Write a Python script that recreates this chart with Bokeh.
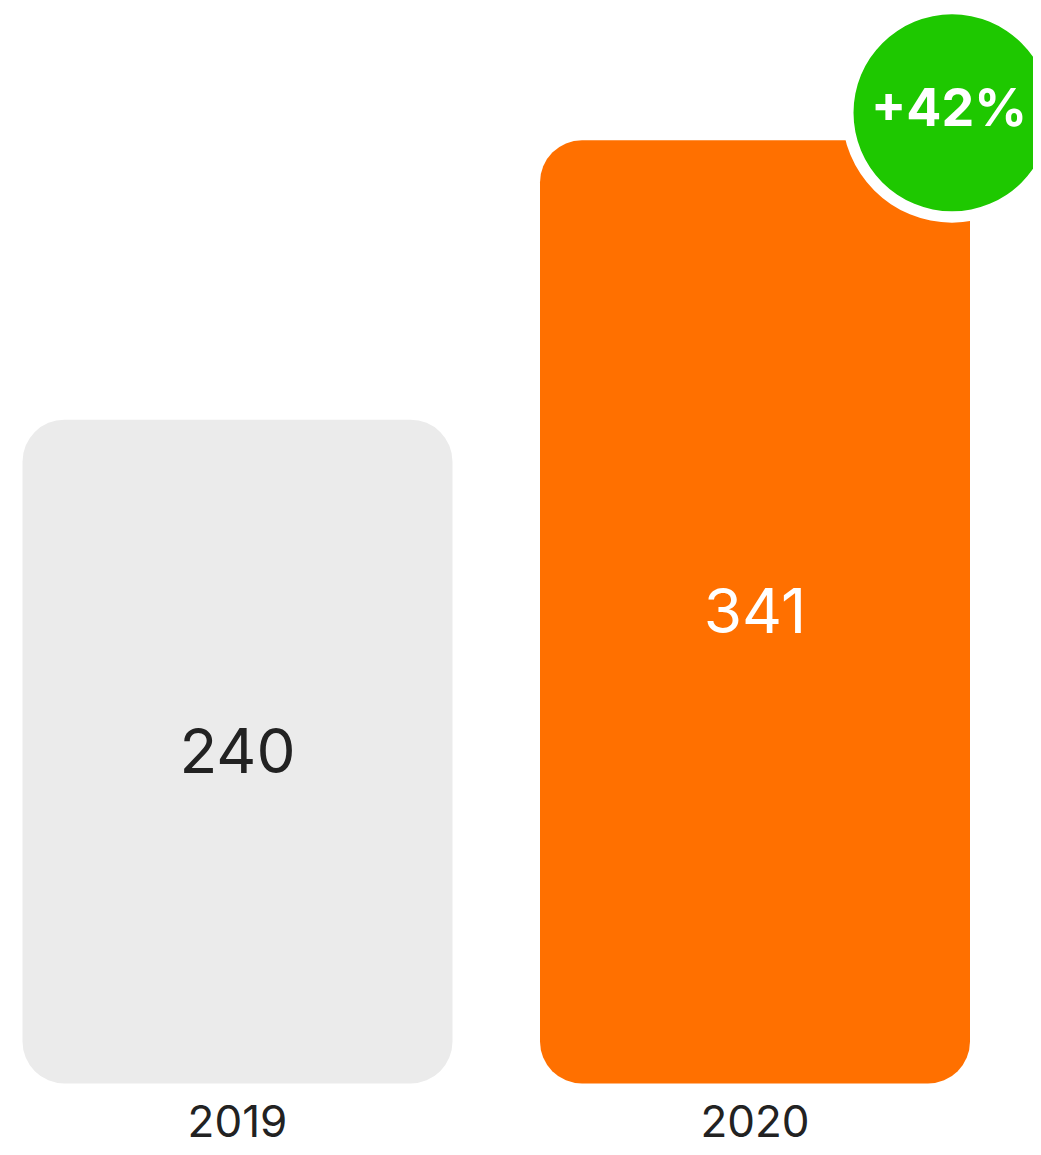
from bokeh.plotting import figure
from bokeh.models import Range1d, ColumnDataSource
from bokeh.core.properties import value
from bokeh.embed import file_html
from bokeh.resources import INLINE

years = ["2019", "2020"]
values = [240, 341]
value_labels = ["240", "341"]
bar_colors = ["#ebebeb", "#ff7000"]
label_colors = ["#222222", "#ffffff"]
growth_label = "+42%"

W, H = 1033, 1147
PX_PER_UNIT_Y = 2.766
PX_PER_UNIT_X = 517.5
zero_px_from_top = 1083
first_center_px = 237
bar_w = 430 / PX_PER_UNIT_X

x0 = -first_center_px / PX_PER_UNIT_X
y0 = -(H - zero_px_from_top) / PX_PER_UNIT_Y

p = figure(width=W, height=H, output_backend="svg", toolbar_location=None,
           x_range=Range1d(x0, x0 + W / PX_PER_UNIT_X),
           y_range=Range1d(y0, y0 + H / PX_PER_UNIT_Y),
           min_border=0)
p.axis.visible = False
p.grid.visible = False
p.outline_line_color = None
p.background_fill_color = "white"

idx = list(range(len(years)))
src = ColumnDataSource(dict(x=idx, top=values, half=[v / 2 for v in values],
                            year=years, lab=value_labels, color=bar_colors,
                            tcolor=label_colors))

p.vbar(x="x", top="top", bottom=0, width=bar_w, fill_color="color",
       line_color=None, border_radius=42, source=src)

p.text(x="x", y="half", text="lab", text_color="tcolor", text_align="center",
       text_baseline="middle", y_offset=-1, text_font=value("Inter"),
       text_font_size="62px", source=src)

p.text(x="x", y=0, text="year", text_color="#222222", text_align="center",
       text_baseline="middle", y_offset=37, text_font=value("Inter"),
       text_font_size="44px", source=src)

# growth badge anchored at top-right corner of last bar
bx = idx[-1] + bar_w / 2 - 18 / PX_PER_UNIT_X
by = values[-1] + 27.5 / PX_PER_UNIT_Y
p.circle(x=[bx], y=[by], radius=110, radius_units="screen",
         fill_color="white", line_color=None)
p.circle(x=[bx], y=[by], radius=98.5, radius_units="screen",
         fill_color="#1ec800", line_color=None)
p.text(x=[bx], y=[by], text=[growth_label], text_color="white",
       text_align="center", text_baseline="middle", y_offset=-5, x_offset=-3,
       text_font=value("Inter"), text_font_size="52px",
       text_font_style="bold")

open("out.html", "w").write(file_html(p, INLINE))
